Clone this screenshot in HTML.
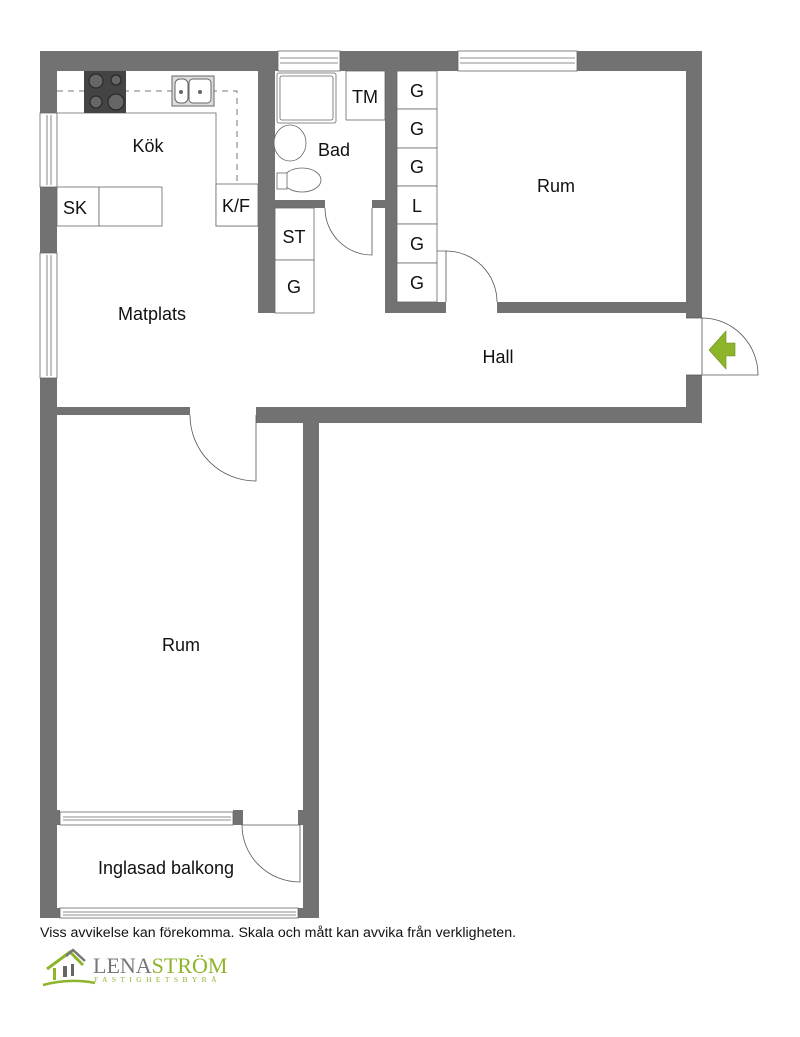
<!DOCTYPE html>
<html><head><meta charset="utf-8"><style>
html,body{margin:0;padding:0;background:#fff;width:800px;height:1037px;overflow:hidden}
svg text{font-family:"Liberation Sans",sans-serif;fill:#111}
</style></head><body>
<svg width="800" height="1037" viewBox="0 0 800 1037" xmlns="http://www.w3.org/2000/svg">
<g fill="#727272">
<rect x="40" y="51" width="662" height="20"/>
<rect x="40" y="51" width="17" height="867"/>
<rect x="686" y="51" width="16" height="267"/>
<rect x="686" y="375" width="16" height="48"/>
<rect x="256" y="407" width="446" height="16"/>
<rect x="40" y="407" width="150" height="8"/>
<rect x="303" y="407" width="16" height="511"/>
<rect x="258" y="71" width="17" height="242"/>
<rect x="275" y="200" width="50" height="8"/>
<rect x="372" y="200" width="25" height="8"/>
<rect x="385" y="71" width="12" height="242"/>
<rect x="385" y="302" width="61" height="11"/>
<rect x="497" y="302" width="189" height="11"/>
<rect x="40" y="810" width="20" height="15"/>
<rect x="233" y="810" width="10" height="15"/>
<rect x="298" y="810" width="21" height="15"/>
<rect x="40" y="908" width="20" height="10"/>
<rect x="298" y="908" width="21" height="10"/>
</g>
<g fill="#fff" stroke="#666" stroke-width="0.8">
<rect x="278" y="51" width="62" height="20"/><line x1="280" y1="58" x2="338" y2="58"/><line x1="280" y1="63" x2="338" y2="63"/>
<rect x="458" y="51" width="119" height="20"/><line x1="460" y1="58" x2="575" y2="58"/><line x1="460" y1="63" x2="575" y2="63"/>
<rect x="40" y="113" width="17" height="74"/><line x1="47" y1="115" x2="47" y2="185"/><line x1="51" y1="115" x2="51" y2="185"/>
<rect x="40" y="253" width="17" height="125"/><line x1="47" y1="255" x2="47" y2="376"/><line x1="51" y1="255" x2="51" y2="376"/>
<rect x="60" y="812" width="173" height="13"/><line x1="63" y1="817" x2="231" y2="817"/><line x1="63" y1="820" x2="231" y2="820"/>
<rect x="60" y="908" width="238" height="10"/><line x1="63" y1="912" x2="296" y2="912"/><line x1="63" y1="915" x2="296" y2="915"/>
</g>
<g fill="#fff" stroke="#666" stroke-width="0.8">
<path d="M57 113 H216 V226 H258"/>
<rect x="216" y="184" width="42" height="42"/>
<rect x="57" y="187" width="42" height="39"/>
<rect x="99" y="187" width="63" height="39"/>
</g>
<path d="M57 91 H237 V184" fill="none" stroke="#777" stroke-dasharray="6,5"/>
<rect x="84" y="71" width="42" height="42" fill="#444"/>
<g fill="#666" stroke="#222"><circle cx="96" cy="81" r="7"/><circle cx="116" cy="80" r="5"/><circle cx="96" cy="102" r="6"/><circle cx="116" cy="102" r="8"/></g>
<rect x="172" y="76" width="42" height="30" fill="#ddd" stroke="#666"/>
<rect x="175" y="79" width="13" height="24" rx="5" fill="#fff" stroke="#666"/>
<rect x="189" y="79" width="22" height="24" rx="4" fill="#fff" stroke="#666"/>
<circle cx="181" cy="92" r="2" fill="#666"/><circle cx="200" cy="92" r="2" fill="#666"/>
<g fill="#fff" stroke="#666" stroke-width="0.8">
<rect x="346" y="71" width="39" height="49"/>
<rect x="277" y="73" width="59" height="50" rx="2"/>
<rect x="280" y="76" width="53" height="44" rx="2"/>
<ellipse cx="290" cy="143" rx="16" ry="18"/>
<ellipse cx="302" cy="180" rx="19" ry="12"/>
<rect x="277" y="173" width="10" height="16"/>
<rect x="275" y="208" width="39" height="52"/>
<rect x="275" y="260" width="39" height="53"/>
</g>
<g fill="#fff" stroke="#666" stroke-width="0.8">
<rect x="397" y="71" width="40" height="38"/><rect x="397" y="109" width="40" height="39"/>
<rect x="397" y="148" width="40" height="38"/><rect x="397" y="186" width="40" height="38"/>
<rect x="397" y="224" width="40" height="39"/><rect x="397" y="263" width="40" height="39"/>
<line x1="437" y1="251" x2="446" y2="251"/>
</g>
<g fill="none" stroke="#555" stroke-width="0.8">
<path d="M325 208 A47 47 0 0 0 372 255 V208"/>
<path d="M446 302 V251 A51 51 0 0 1 497 302"/>
<path d="M190 415 A66 66 0 0 0 256 481 V415"/>
<path d="M702 318 V375 H758 A56 57 0 0 0 702 318"/>
<path d="M686 318 H702 M686 375 H702"/>
<path d="M242 825 H300 V882 A58 57 0 0 1 242 825"/>
</g>
<polygon points="709,350 726,331 726,343 735,343 735,356 726,356 726,369" fill="#8db52a" stroke="#6a8a1e" stroke-width="0.6"/>
<g font-size="18" text-anchor="middle">
<text x="148" y="152">Kök</text>
<text x="75" y="214">SK</text>
<text x="236" y="212">K/F</text>
<text x="334" y="156">Bad</text>
<text x="365" y="103">TM</text>
<text x="294" y="243">ST</text>
<text x="294" y="293">G</text>
<text x="417" y="97">G</text><text x="417" y="135">G</text><text x="417" y="173">G</text>
<text x="417" y="212">L</text><text x="417" y="250">G</text><text x="417" y="289">G</text>
<text x="556" y="192">Rum</text>
<text x="152" y="320">Matplats</text>
<text x="498" y="363">Hall</text>
<text x="181" y="651">Rum</text>
<text x="166" y="874">Inglasad balkong</text>
</g>
<text x="40" y="937" font-size="14.2">Viss avvikelse kan förekomma. Skala och mått kan avvika från verkligheten.</text>
<path d="M43 985 Q70 978 95 983" stroke="#8db52a" stroke-width="2.5" fill="none"/>
<path d="M47 969 L70 952 L83 965" stroke="#8db52a" stroke-width="3" fill="none"/>
<path d="M66 956 L73 950 L85 961" stroke="#777" stroke-width="2.5" fill="none"/>
<rect x="53" y="968" width="3" height="12" fill="#8db52a"/>
<rect x="63" y="966" width="4" height="11" fill="#666"/><rect x="71" y="964" width="3" height="12" fill="#666"/>
<text x="93" y="973" font-size="22" style="font-family:'Liberation Serif',serif;fill:#777">LENA<tspan style="fill:#8db52a">STRÖM</tspan></text>
<text x="94" y="982" font-size="7.5" letter-spacing="4.4" style="font-family:'Liberation Serif',serif;fill:#8db52a">FASTIGHETSBYRÅ</text>
</svg>
</body></html>
